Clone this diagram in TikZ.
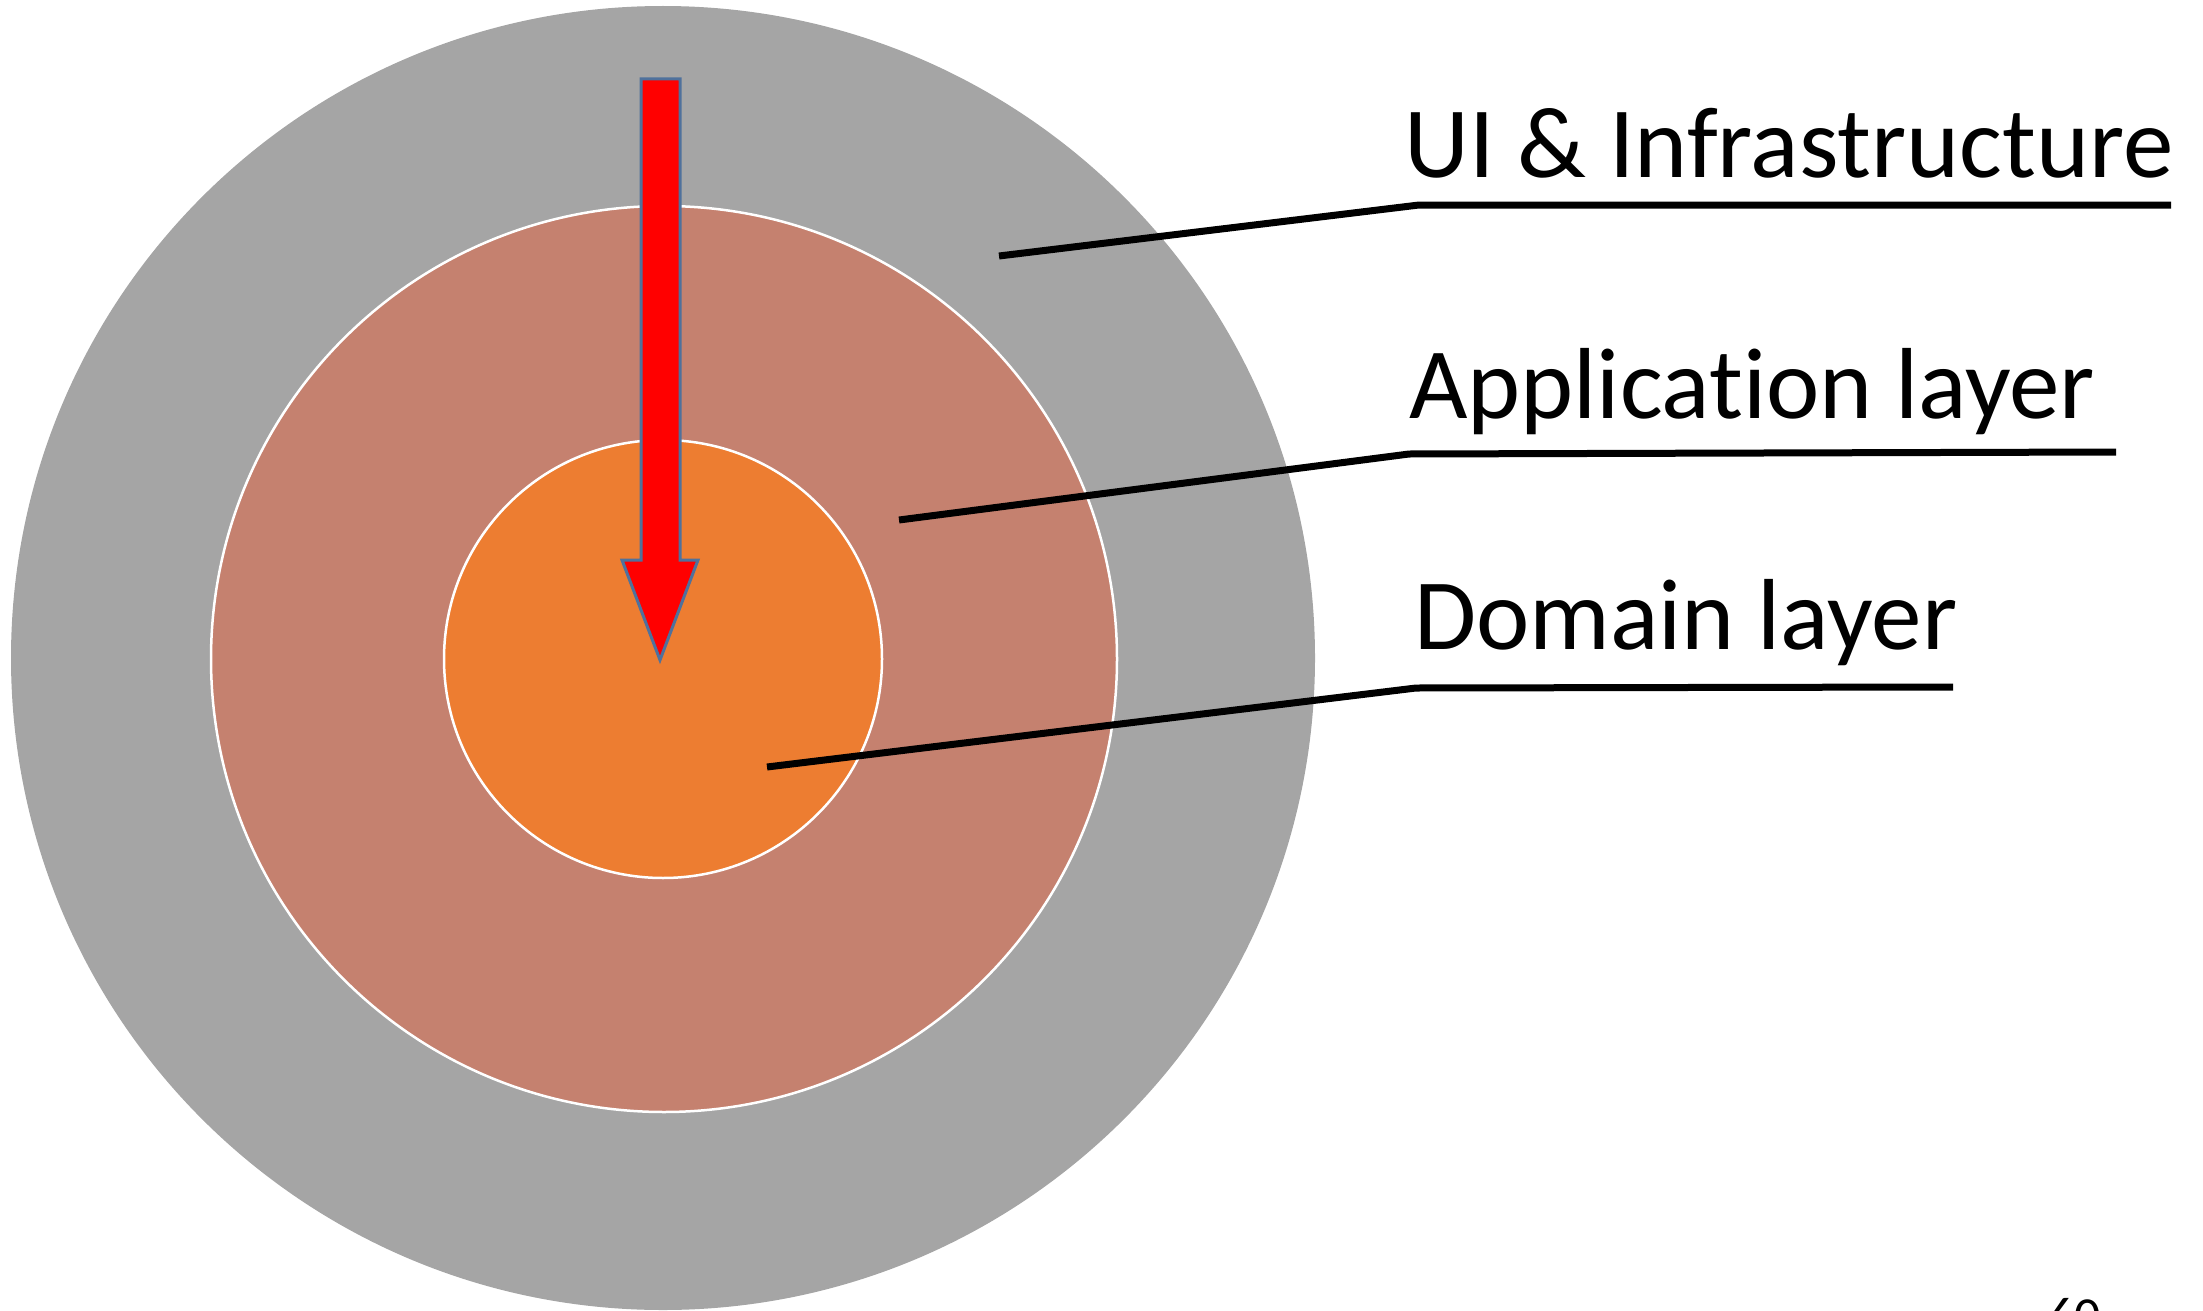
\documentclass[tikz,border=0pt]{standalone}
\usepackage{fontspec}
\setmainfont[RawFeature={-liga}]{Carlito}
\begin{document}
\begin{tikzpicture}[x=1pt,y=-1pt,
  ring/.style={circle,inner sep=0pt,draw=white,line width=2.5pt},
  lbl/.style={anchor=base west,inner sep=0pt,font=\fontsize{101}{120}\selectfont},
  leader/.style={draw=black,line width=7pt}]
\clip (0,0) rectangle (2203,1311);
\useasboundingbox (0,0) rectangle (2203,1311);
\definecolor{outergray}{HTML}{A5A5A5}
\definecolor{midrose}{HTML}{C5816F}
\definecolor{coreorange}{HTML}{ED7D31}
\definecolor{arrowedge}{HTML}{4F719C}
% concentric layers
\node[circle,inner sep=0pt,fill=outergray,minimum size=1304pt] (outer) at (663,658) {};
\node[ring,fill=midrose,minimum size=906pt] (middle) at (664,659) {};
\node[ring,fill=coreorange,minimum size=438pt] (core) at (663,659) {};
% dependency arrow pointing inwards
\draw[fill=red,draw=arrowedge,line width=3pt,line join=miter]
  (641,79) -- (680,79) -- (680,560) -- (698,560) -- (660,660) -- (622,560) -- (641,560) -- cycle;
% labels
\node[lbl] (ui) at (1404,178) {UI \& Infrastructure};
\node[lbl] (app) at (1409,418) {Application layer};
\node[lbl] (dom) at (1414,649) {Domain layer};
% leader lines
\coordinate (uiA) at (999,256);
\coordinate (uiB) at (1419,205);
\coordinate (uiC) at (2171,205);
\coordinate (appA) at (899,520);
\coordinate (appB) at (1409,454);
\coordinate (appC) at (2116,452);
\coordinate (domA) at (767,767);
\coordinate (domB) at (1416,688);
\coordinate (domC) at (1953,687);
\draw[leader] (uiA) -- (uiB) -- (uiC);
\draw[leader] (appA) -- (appB) -- (appC);
\draw[leader] (domA) -- (domB) -- (domC);
% page number
\node[anchor=base west,inner sep=0pt,font=\fontsize{52}{60}\selectfont] (page) at (2048,1333) {60};
\end{tikzpicture}
\end{document}
